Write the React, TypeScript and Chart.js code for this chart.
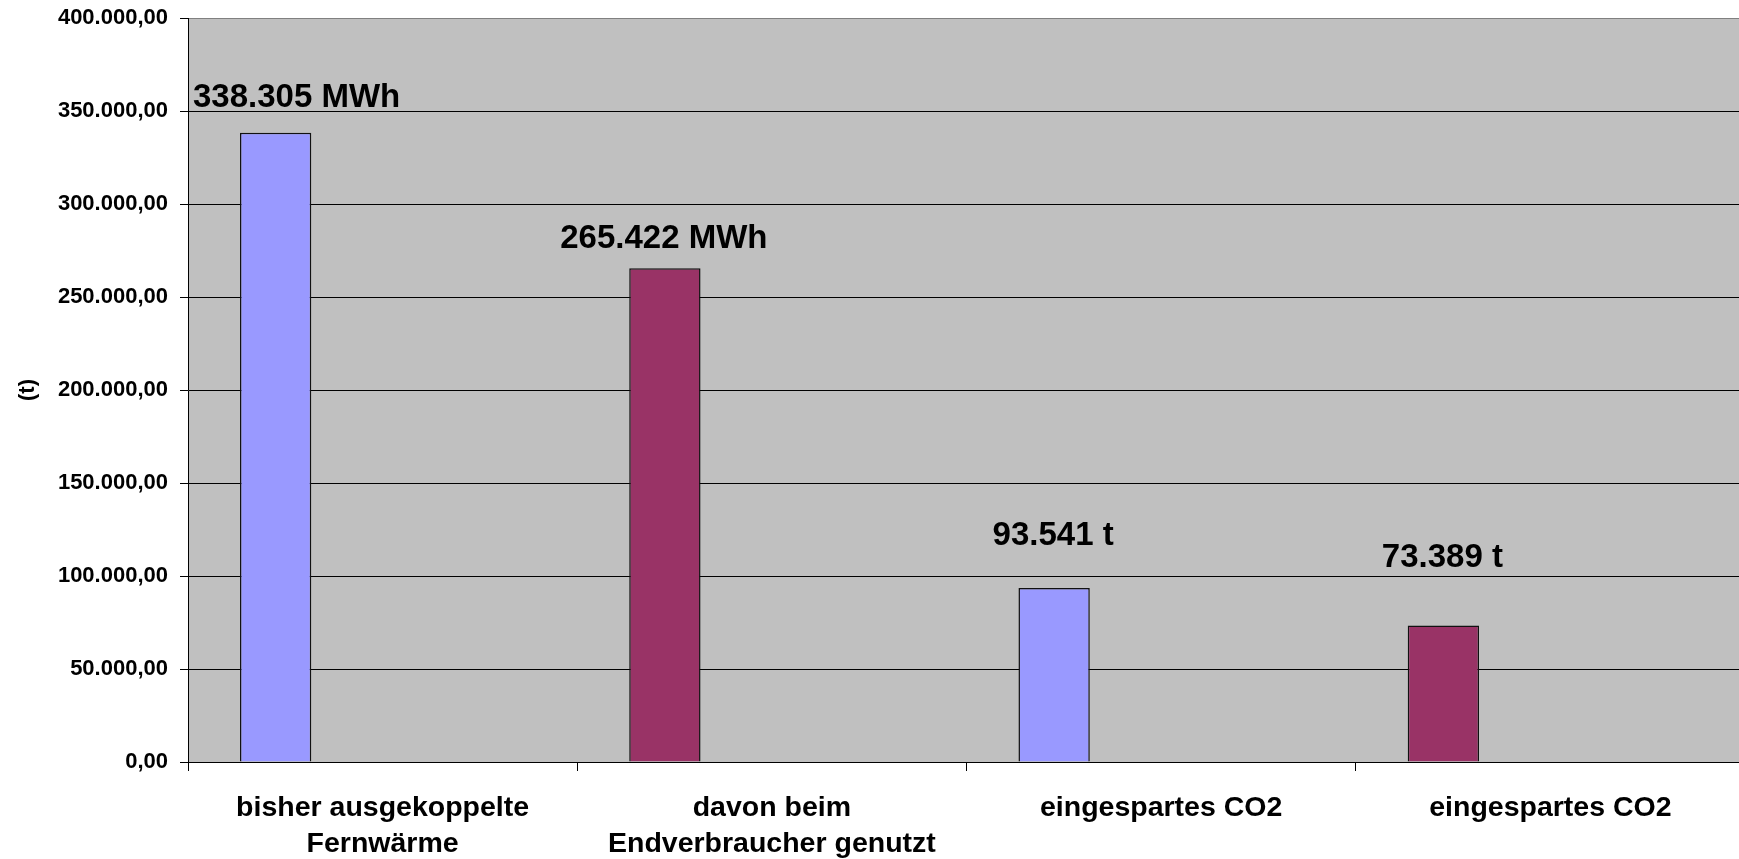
import React, { useEffect, useRef } from 'react';
import { Chart, registerables } from 'chart.js';

Chart.register(...registerables);

// ---- data ----
const categories: (string | string[])[] = [
  ['bisher ausgekoppelte', 'Fernwärme'],
  ['davon beim', 'Endverbraucher genutzt'],
  'eingespartes CO2',
  'eingespartes CO2',
];
const values = [338305, 265422, 93541, 73389];
const units = ['MWh', 'MWh', 't', 't'];
const barColors = ['#9999FF', '#993366', '#9999FF', '#993366'];
const yMin = 0;
const yMax = 400000;
const yStep = 50000;
const yAxisTitle = '(t)';

const FONT = '"Liberation Sans", Arial, Helvetica, sans-serif';

function fmtDe(n: number, dec: number): string {
  const fixed = Number(n).toFixed(dec);
  const [i, f] = fixed.split('.');
  const ip = i.replace(/\B(?=(\d{3})+(?!\d))/g, '.');
  return f ? ip + ',' + f : ip;
}

// label placement tweaks (pixels relative to bar top / bar centre)
const labelShiftX = [21, -1, -1, -1];
const labelGapY = [26, 20, 43, 58];

const plotBg = {
  id: 'plotBg',
  beforeDraw(chart: any) {
    const { ctx, chartArea } = chart;
    if (!chartArea) return;
    ctx.save();
    ctx.fillStyle = '#C0C0C0';
    ctx.fillRect(chartArea.left, chartArea.top, chartArea.right - chartArea.left, chartArea.bottom - chartArea.top);
    ctx.restore();
  },
};

const valueLabels = {
  id: 'valueLabels',
  afterDatasetsDraw(chart: any) {
    const { ctx } = chart;
    const meta = chart.getDatasetMeta(0);
    ctx.save();
    ctx.font = `bold 33px ${FONT}`;
    ctx.fillStyle = '#000';
    ctx.textAlign = 'center';
    ctx.textBaseline = 'alphabetic';
    meta.data.forEach((el: any, i: number) => {
      const txt = fmtDe(values[i], 0) + ' ' + units[i];
      ctx.fillText(txt, el.x + labelShiftX[i], el.y - labelGapY[i]);
    });
    ctx.restore();
  },
};

export default function App() {
  const ref = useRef<HTMLCanvasElement | null>(null);

  useEffect(() => {
    document.body.style.margin = '0';
    const canvas = ref.current;
    if (!canvas) return;
    Chart.defaults.font.family = FONT;
    const empty = values.map(() => null);
    const chart = new Chart(canvas, {
      type: 'bar',
      data: {
        labels: categories as any,
        datasets: [
          { data: values, backgroundColor: barColors, borderColor: '#111', borderWidth: 1.5 },
          { data: empty as any },
          { data: empty as any },
          { data: empty as any },
        ],
      },
      options: {
        animation: false,
        responsive: false,
        devicePixelRatio: 1,
        layout: { padding: { top: 18, left: 0, right: 0, bottom: 0 } },
        plugins: { legend: { display: false }, tooltip: { enabled: false } },
        datasets: { bar: { categoryPercentage: 0.733, barPercentage: 1 } },
        scales: {
          x: {
            grid: { display: true, drawOnChartArea: false, drawTicks: true, tickLength: 9, color: '#000', offset: true },
            border: { display: true, color: '#000', width: 1 },
            ticks: {
              font: { size: 28.5, weight: 'bold', lineHeight: 36 / 28.5 },
              color: '#000',
              padding: 19,
              maxRotation: 0,
              autoSkip: false,
            },
            afterFit(s: any) { s.height = 97; },
          },
          y: {
            min: yMin,
            max: yMax,
            ticks: {
              stepSize: yStep,
              callback: (v: any) => fmtDe(Number(v), 2),
              font: { size: 22, weight: 'bold' },
              color: '#000',
              padding: 12,
            },
            grid: {
              color: (c: any) => (c.tick && c.tick.value === yMax ? '#808080' : '#000'),
              tickColor: '#000',
              tickLength: 8,
              lineWidth: 1,
            },
            border: { display: true, color: '#000', width: 1 },
            title: {
              display: true,
              text: yAxisTitle,
              font: { size: 22, weight: 'bold' },
              color: '#000',
              padding: { top: 15, bottom: 0 },
            },
            afterFit(s: any) { s.width = 188; s.paddingTop = 0; s.paddingBottom = 0; },
          },
        },
      } as any,
      plugins: [plotBg, valueLabels],
    });
    return () => chart.destroy();
  }, []);

  return (
    <div style={{ width: 1739, height: 859, overflow: 'hidden', background: '#fff' }}>
      <canvas ref={ref} width={1745} height={859} style={{ display: 'block', width: 1745, height: 859 }} />
    </div>
  );
}
